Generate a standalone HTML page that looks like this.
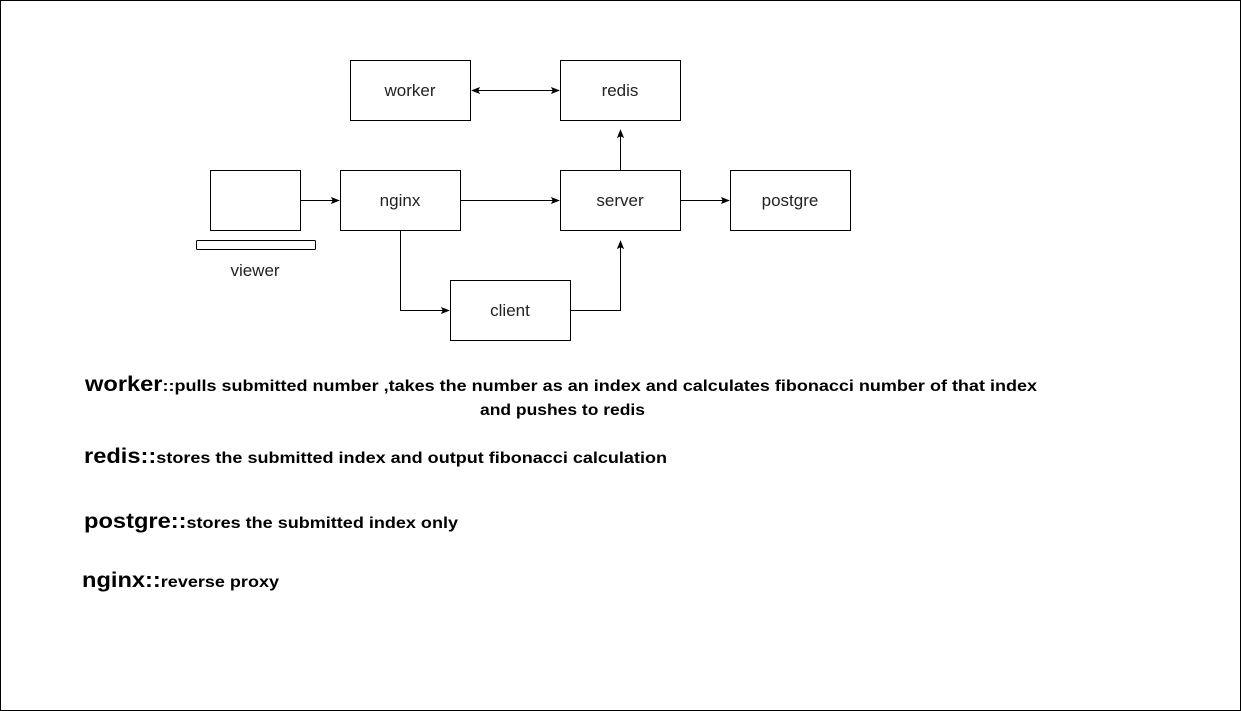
<!DOCTYPE html>
<html><head><meta charset="utf-8"><style>
html,body{margin:0;padding:0;background:#fff;}
svg{display:block;}
text{font-family:"Liberation Sans",Arial,sans-serif;}
</style></head><body>
<svg width="1241" height="711" viewBox="0 0 1241 711" xmlns="http://www.w3.org/2000/svg">
<defs>
<marker id="a" viewBox="0 0 10 10" refX="9" refY="5" markerWidth="9" markerHeight="9" orient="auto-start-reverse">
<path d="M0,1 L10,5 L0,9 L2,5 Z" fill="#000"/></marker>
</defs>
<rect x="0.5" y="0.5" width="1240" height="710" fill="#fff" stroke="#000"/>
<g fill="#fff" stroke="#000" stroke-width="1">
<rect x="350.5" y="60.5" width="120" height="60"/>
<rect x="560.5" y="60.5" width="120" height="60"/>
<rect x="210.5" y="170.5" width="90" height="60"/>
<rect x="196.5" y="240.5" width="119" height="9" rx="1"/>
<rect x="340.5" y="170.5" width="120" height="60"/>
<rect x="560.5" y="170.5" width="120" height="60"/>
<rect x="730.5" y="170.5" width="120" height="60"/>
<rect x="450.5" y="280.5" width="120" height="60"/>
</g>
<g stroke="#000" fill="none" stroke-width="1">
<line x1="472" y1="90.5" x2="559" y2="90.5" marker-start="url(#a)" marker-end="url(#a)"/>
<line x1="300" y1="200.5" x2="339" y2="200.5" marker-end="url(#a)"/>
<line x1="460" y1="200.5" x2="559" y2="200.5" marker-end="url(#a)"/>
<line x1="680" y1="200.5" x2="729" y2="200.5" marker-end="url(#a)"/>
<line x1="620.5" y1="170" x2="620.5" y2="130" marker-end="url(#a)"/>
<polyline points="400.5,230 400.5,310.5 449,310.5" marker-end="url(#a)"/>
<polyline points="570,310.5 620.5,310.5 620.5,241" marker-end="url(#a)"/>
</g>
<g font-size="17" fill="#222" text-anchor="middle">
<text x="410" y="96">worker</text>
<text x="620" y="96">redis</text>
<text x="400" y="206">nginx</text>
<text x="620" y="206">server</text>
<text x="790" y="206">postgre</text>
<text x="510" y="316">client</text>
<text x="255" y="276">viewer</text>
</g>
<g fill="#000" font-weight="bold">
<text x="85" y="391" font-size="16" textLength="952" lengthAdjust="spacingAndGlyphs"><tspan font-size="21">worker</tspan>::pulls submitted number ,takes the number as an index and calculates fibonacci number of that index</text>
<text x="480" y="415" font-size="16" textLength="165" lengthAdjust="spacingAndGlyphs">and pushes to redis</text>
<text x="84" y="463" font-size="16" textLength="583" lengthAdjust="spacingAndGlyphs"><tspan font-size="21">redis::</tspan>stores the submitted index and output fibonacci calculation</text>
<text x="84" y="528" font-size="16" textLength="374" lengthAdjust="spacingAndGlyphs"><tspan font-size="21">postgre::</tspan>stores the submitted index only</text>
<text x="82" y="587" font-size="16" textLength="197" lengthAdjust="spacingAndGlyphs"><tspan font-size="21">nginx::</tspan>reverse proxy</text>
</g>
</svg>
</body></html>
